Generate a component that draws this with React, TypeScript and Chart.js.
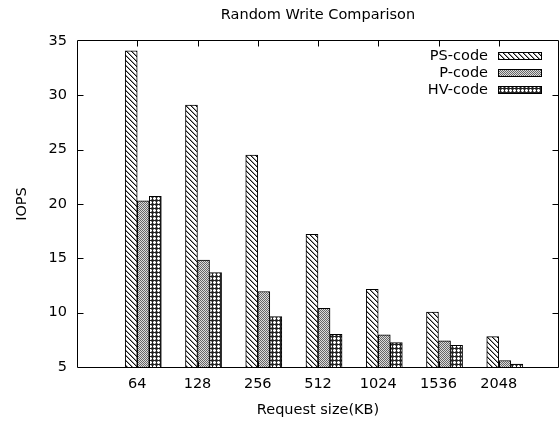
import { useEffect, useRef } from 'react';
import { Chart, registerables } from 'chart.js';

Chart.register(...registerables);

const categories = ['64', '128', '256', '512', '1024', '1536', '2048'];
const seriesNames = ['PS-code', 'P-code', 'HV-code'];
const psCode = [34.1, 29.1, 24.5, 17.2, 12.15, 10.05, 7.8];
const pCode = [20.3, 14.85, 11.95, 10.4, 7.95, 7.4, 5.6];
const hvCode = [20.7, 13.7, 9.65, 8.0, 7.25, 7.0, 5.28];
const yTicks = [5, 10, 15, 20, 25, 30, 35];

const FONT = "'DejaVu Sans', sans-serif";

function makeTile(size: number, fn: (x: number, y: number) => string) {
  const c = document.createElement('canvas');
  c.width = size;
  c.height = size;
  const ctx = c.getContext('2d')!;
  for (let y = 0; y < size; y++) {
    for (let x = 0; x < size; x++) {
      ctx.fillStyle = fn(x, y);
      ctx.fillRect(x, y, 1, 1);
    }
  }
  return ctx.createPattern(c, 'repeat')!;
}

function makePatterns() {
  const ps = makeTile(5, (x, y) => (x === y ? '#111' : ((x - y + 5) % 5 === 1 ? '#999' : '#fff')));
  const p = makeTile(2, (x, y) => ((x + y) % 2 === 0 ? '#666' : '#dcdcdc'));
  const hv = makeTile(4, (x, y) => {
    if (x === 0 || y === 0) return '#222';
    if ((x === 1 || x === 3) && (y === 1 || y === 3)) return '#888';
    return '#fff';
  });
  return [ps, p, hv];
}

export default function App() {
  const ref = useRef<HTMLCanvasElement>(null);

  useEffect(() => {
    const canvas = ref.current!;
    const patterns = makePatterns();
    const offsets = [-0.1, 0.1, 0.3];
    const seriesValues = [psCode, pCode, hvCode];

    const framePlugin = {
      id: 'gnuplotFrame',
      afterDraw(chart: any) {
        const ctx = chart.ctx as CanvasRenderingContext2D;
        const ca = chart.chartArea;
        const xs = chart.scales.x;
        const ys = chart.scales.y;
        const L = Math.round(ca.left) + 0.5;
        const R = Math.round(ca.right) - 0.5;
        const T = Math.round(ca.top) - 0.5;
        const B = Math.round(ca.bottom) + 0.5;
        ctx.save();
        ctx.strokeStyle = '#000';
        ctx.lineWidth = 1;
        ctx.beginPath();
        ctx.moveTo(L, T); ctx.lineTo(R, T); ctx.lineTo(R, B); ctx.lineTo(L, B); ctx.closePath();
        const tl = 6;
        yTicks.forEach((v) => {
          const y = Math.round(ys.getPixelForValue(v)) + 0.5;
          if (v === yTicks[0] || v === yTicks[yTicks.length - 1]) return;
          ctx.moveTo(L, y); ctx.lineTo(L + tl, y);
          ctx.moveTo(R, y); ctx.lineTo(R - tl, y);
        });
        categories.forEach((_, i) => {
          const x = Math.round(xs.getPixelForValue(i)) + 0.5;
          ctx.moveTo(x, B); ctx.lineTo(x, B - tl);
          ctx.moveTo(x, T); ctx.lineTo(x, T + tl);
        });
        ctx.stroke();

        ctx.fillStyle = '#000';
        ctx.font = `14.5px ${FONT}`;
        ctx.textAlign = 'center';
        ctx.textBaseline = 'middle';
        const cx = (ca.left + ca.right) / 2;
        ctx.fillText('Random Write Comparison', cx, 15);
        ctx.fillText('Request size(KB)', cx, 410);
        ctx.save();
        ctx.translate(22, (ca.top + ca.bottom) / 2);
        ctx.rotate(-Math.PI / 2);
        ctx.fillText('IOPS', 0, 0);
        ctx.restore();

        const textRight = 488;
        const boxL = 498;
        const boxW = 44;
        const boxH = 8;
        const rowY = [56, 73, 90];
        seriesNames.forEach((name, k) => {
          ctx.textAlign = 'right';
          ctx.textBaseline = 'middle';
          ctx.fillStyle = '#000';
          ctx.fillText(name, textRight, rowY[k]);
          const by = Math.round(rowY[k] - 0.5 - boxH / 2);
          ctx.fillStyle = patterns[k];
          ctx.fillRect(boxL, by, boxW, boxH);
          ctx.strokeStyle = '#000';
          ctx.strokeRect(boxL + 0.5, by + 0.5, boxW - 1, boxH - 1);
        });
        ctx.restore();
      },
    };

    const chart = new Chart(canvas, {
      type: 'bar',
      data: {
        datasets: seriesValues.map((vals, k) => ({
          label: seriesNames[k],
          data: vals.map((v, i) => ({ x: i + offsets[k], y: v })),
          backgroundColor: patterns[k] as any,
          borderColor: '#000',
          borderWidth: 1,
          borderSkipped: false,
          barThickness: 12,
          grouped: false,
        })) as any,
      },
      options: {
        animation: false,
        responsive: false,
        devicePixelRatio: 1,
        layout: { padding: { top: 41, right: 1, left: 0, bottom: 0 } },
        plugins: {
          legend: { display: false },
          title: { display: false },
          tooltip: { enabled: false },
        },
        scales: {
          x: {
            type: 'linear',
            offset: false,
            min: -1,
            max: 7,
            afterBuildTicks: (s: any) => {
              s.ticks = categories.map((_, i) => ({ value: i }));
            },
            afterFit: (s: any) => {
              s.height = 55;
            },
            ticks: {
              callback: (v: any) => categories[v as number] ?? '',
              font: { family: FONT, size: 14.5 },
              color: '#000',
              padding: 9,
              maxRotation: 0,
              autoSkip: false,
            },
            grid: { display: false, drawTicks: false },
            border: { display: false },
          },
          y: {
            min: 5,
            max: 35,
            afterBuildTicks: (s: any) => {
              s.ticks = yTicks.map((v) => ({ value: v }));
            },
            afterFit: (s: any) => {
              s.width = 77;
            },
            ticks: {
              font: { family: FONT, size: 14.5 },
              color: '#000',
              padding: 10,
            },
            grid: { display: false, drawTicks: false },
            border: { display: false },
          },
        },
      } as any,
      plugins: [framePlugin],
    });

    return () => chart.destroy();
  }, []);

  return (
    <div style={{ position: 'fixed', left: 0, top: 0, width: 560, height: 422, background: '#fff' }}>
      <canvas ref={ref} width={560} height={422} />
    </div>
  );
}
